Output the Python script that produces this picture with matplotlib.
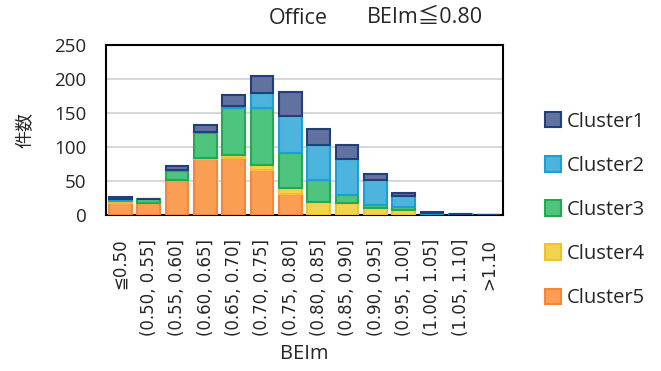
import matplotlib
matplotlib.use("Agg")
import matplotlib.pyplot as plt
import numpy as np

plt.rcParams["font.family"] = ["Open Sans", "Noto Sans CJK JP", "DejaVu Sans"]

categories = ["≦0.50", "(0.50, 0.55]", "(0.55, 0.60]", "(0.60, 0.65]", "(0.65, 0.70]",
              "(0.70, 0.75]", "(0.75, 0.80]", "(0.80, 0.85]", "(0.85, 0.90]", "(0.90, 0.95]",
              "(0.95, 1.00]", "(1.00, 1.05]", "(1.05, 1.10]", ">1.10"]

cluster5 = [18, 18, 51, 83, 84, 66, 31, 0, 0, 0, 0, 0, 0, 0]
cluster4 = [2, 0, 1, 1, 4, 7, 9, 19, 17, 10, 7, 0, 0, 0]
cluster3 = [1, 5, 13, 36, 70, 85, 51, 32, 13, 5, 5, 0, 0, 0]
cluster2 = [2, 0, 1, 2, 2, 21, 55, 52, 52, 36, 16, 3, 1, 0]
cluster1 = [3, 0, 6, 11, 17, 26, 35, 24, 21, 10, 5, 2, 0, 0]

series = [
    ("Cluster5", cluster5, "#f99e52", "#f5863a"),
    ("Cluster4", cluster4, "#f3d24f", "#efc12c"),
    ("Cluster3", cluster3, "#4ec47f", "#22aa4e"),
    ("Cluster2", cluster2, "#4db4de", "#1c9ed6"),
    ("Cluster1", cluster1, "#6171a0", "#223f78"),
]
text_color = "#262626"

fig = plt.figure(figsize=(6.61, 3.71), dpi=100)
ax = fig.add_axes([106 / 661, 1 - 215 / 371, 397 / 661, 170 / 371])

x = np.arange(len(categories))
bottom = np.zeros(len(categories))
handles = {}
for name, vals, face, edge in series:
    vals = np.array(vals, dtype=float)
    b = ax.bar(x, vals, 0.8, bottom=bottom, color=face, edgecolor=edge, linewidth=1.5,
               label=name, zorder=3)
    handles[name] = b
    bottom += vals

ax.set_xlim(-0.5, len(categories) - 0.5)
ax.set_ylim(0, 250)
ax.set_yticks(np.arange(0, 251, 50))
ax.yaxis.grid(True, color="#d4d4d4", linewidth=1.3, zorder=0)
ax.set_axisbelow(True)
for s in ax.spines.values():
    s.set_color("black")
    s.set_linewidth(1.5)
ax.tick_params(axis="both", length=0, colors=text_color)
ax.tick_params(axis="y", pad=14, labelsize=13.5)
ax.tick_params(axis="x", pad=17)
ax.set_xticks(x)
ax.set_xticklabels(categories, rotation=90, fontsize=12, family=["DejaVu Sans"])
ax.set_xlabel("BEIm", fontsize=14.5, color=text_color, labelpad=6)
ax.set_ylabel("件数", fontsize=13, color=text_color, family=["Noto Sans CJK JP"], labelpad=14)

fig.text(298 / 661, 1 - 18 / 371, "Office", fontsize=15.5, ha="center", va="center", color=text_color)
fig.text(367 / 661, 1 - 18 / 371, "BEIm≦0.80", fontsize=15.5, ha="left", va="center", color=text_color)

order = ["Cluster1", "Cluster2", "Cluster3", "Cluster4", "Cluster5"]
leg = fig.legend([handles[n] for n in order], order, loc="center left",
                 bbox_to_anchor=(527 / 661, 1 - 210 / 371), frameon=False, fontsize=14.5,
                 labelspacing=1.2, handlelength=0.8, handleheight=0.8, handletextpad=0.25)
for t in leg.get_texts():
    t.set_color(text_color)

fig.savefig("out.png", dpi=100)
